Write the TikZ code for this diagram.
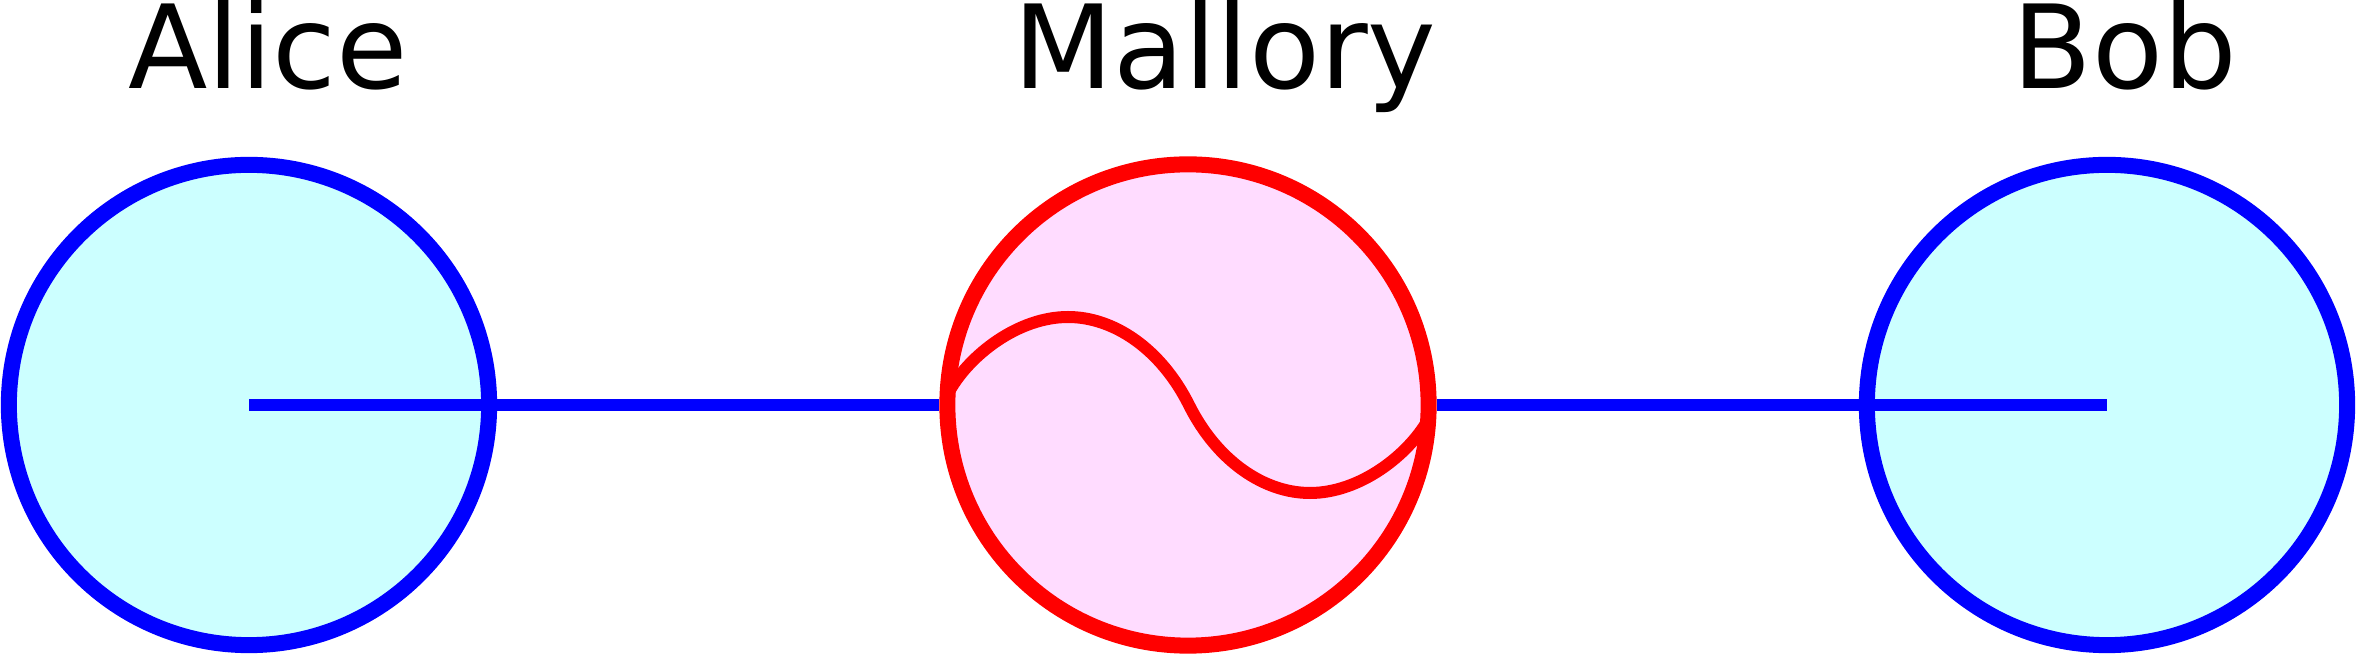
\documentclass[tikz,border=0pt]{standalone}
\usepackage{fontspec}
\setmainfont{DejaVu Sans}
\usetikzlibrary{calc}
\definecolor{cLink}{HTML}{0000FF}
\definecolor{cHonest}{HTML}{CCFFFF}
\definecolor{cMitm}{HTML}{FF0000}
\definecolor{cMitmFill}{HTML}{FFDCFF}

\begin{document}
\begin{tikzpicture}[
    x=0.01cm, y=-0.01cm,
    party/.style={circle, draw=cLink, fill=cHonest, line width=0.16cm,
                  minimum size=4.80cm, inner sep=0pt},
    mitm/.style={circle, draw=cMitm, fill=cMitmFill, line width=0.16cm,
                 minimum size=4.81cm, inner sep=0pt},
    link/.style={cLink, line width=0.12cm},
    wave/.style={cMitm, line width=0.12cm},
    partyLbl/.style={font=\fontsize{33}{40}\selectfont, inner sep=0pt, anchor=base},
]
\useasboundingbox (0,0) rectangle (2356,655);

% ===================== Partes =====================
\node[party] (alice) at (249,405) {};
\node[party] (bob) at (2107,405) {};
\node[mitm] (mallory) at (1188,405) {};

\node[partyLbl] (aliceLbl) at (268,89) {Alice};
\node[partyLbl] (malloryLbl) at (1225,89) {Mallory};
\node[partyLbl] (bobLbl) at (2125,89) {Bob};

% ===================== Canal =====================
\draw[link] (alice.center) -- (mallory.west);
\draw[link] (mallory.east) -- (bob.center);

% ===================== Onda interceptada =====================
\draw[wave] (950,390) .. controls (970,355) and (1018,317) .. (1068,317)
    .. controls (1114,317) and (1161,349) .. (1189,405)
    .. controls (1217,461) and (1264,493) .. (1310,493)
    .. controls (1360,493) and (1408,455) .. (1428,420);

\end{tikzpicture}
\end{document}
